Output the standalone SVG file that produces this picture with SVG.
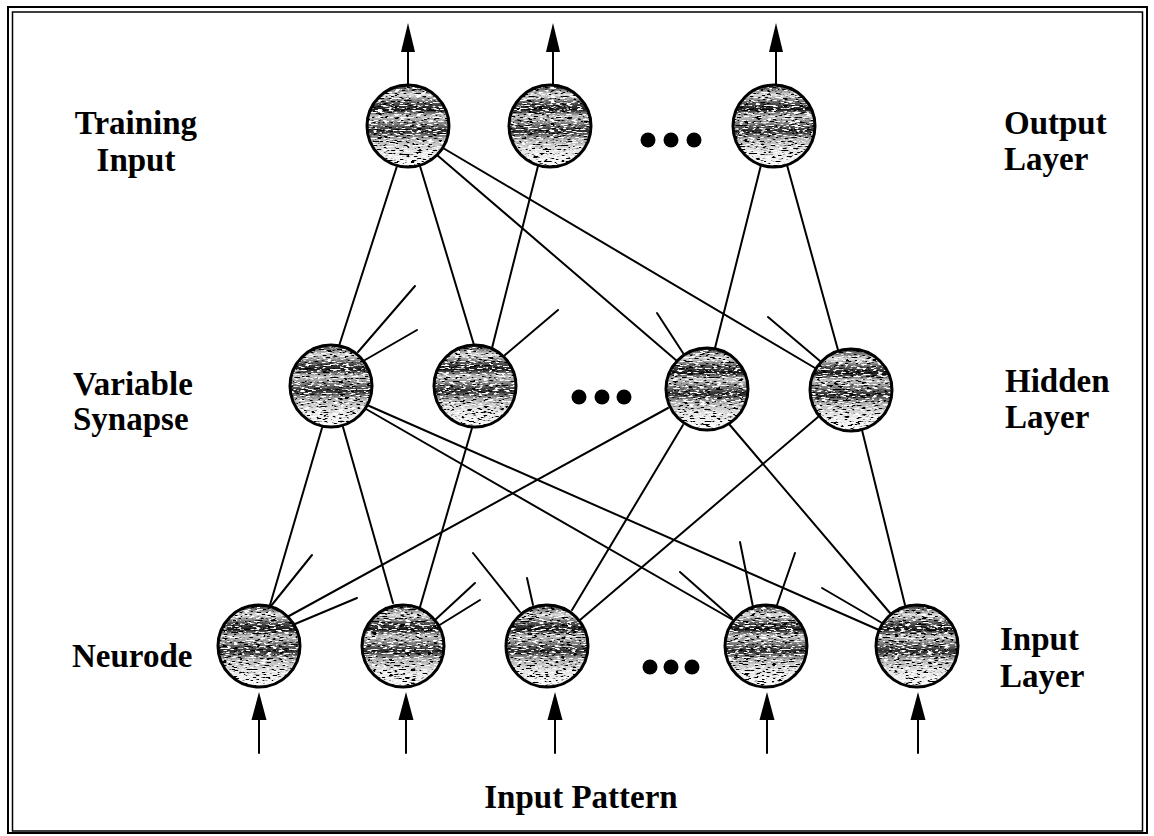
<svg xmlns="http://www.w3.org/2000/svg" width="1154" height="836" viewBox="0 0 1154 836">
<defs>
<style>
.lbl{font-family:"Liberation Serif","Times New Roman",serif;font-weight:bold;font-size:33px;fill:#000}
.ln{stroke:#000;stroke-width:2;fill:none;stroke-linecap:round}
.ring{fill:none;stroke:#000;stroke-width:3}
.body{fill:url(#shade);filter:url(#tex)}
.dot{fill:#000}
.head{fill:#000}
</style>
<linearGradient id="shade" x1="0" y1="0" x2="0" y2="1">
<stop offset="0" stop-color="#222"/>
<stop offset="0.12" stop-color="#e0e0e0"/>
<stop offset="0.22" stop-color="#555"/>
<stop offset="0.3" stop-color="#1a1a1a"/>
<stop offset="0.38" stop-color="#c8c8c8"/>
<stop offset="0.48" stop-color="#777"/>
<stop offset="0.56" stop-color="#2a2a2a"/>
<stop offset="0.66" stop-color="#b0b0b0"/>
<stop offset="0.8" stop-color="#e4e4e4"/>
<stop offset="1" stop-color="#fdfdfd"/>
</linearGradient>
<filter id="tex" x="0" y="0" width="100%" height="100%">
<feTurbulence type="fractalNoise" baseFrequency="0.18 0.75" numOctaves="2" seed="7" result="n"/>
<feColorMatrix in="n" type="matrix" values="0 0 0 0 1  0 0 0 0 1  0 0 0 0 1  0 9 0 0 -4.9" result="w"/>
<feComposite in="w" in2="SourceGraphic" operator="in" result="wm"/>
<feColorMatrix in="n" type="matrix" values="0 0 0 0 0  0 0 0 0 0  0 0 0 0 0  9 0 0 0 -5.0" result="b"/>
<feComposite in="b" in2="SourceGraphic" operator="in" result="bm"/>
<feMerge><feMergeNode in="SourceGraphic"/><feMergeNode in="wm"/><feMergeNode in="bm"/></feMerge>
</filter>
</defs>
<rect x="0" y="0" width="1154" height="836" fill="#fff"/>
<rect x="8" y="7" width="1139" height="826" fill="none" stroke="#000" stroke-width="2"/>
<rect x="12.5" y="12" width="1130" height="819" fill="none" stroke="#000" stroke-width="1.5"/>

<g id="connectors">
<line class="ln" x1="397" y1="166" x2="339" y2="346"/>
<line class="ln" x1="420" y1="166" x2="474" y2="345"/>
<line class="ln" x1="437" y1="155" x2="677" y2="361"/>
<line class="ln" x1="443" y1="148" x2="815" y2="368"/>
<line class="ln" x1="538" y1="166" x2="492" y2="348"/>
<line class="ln" x1="761" y1="165" x2="715" y2="348"/>
<line class="ln" x1="787" y1="165" x2="838" y2="350"/>
<line class="ln" x1="358" y1="352" x2="415" y2="286"/>
<line class="ln" x1="365" y1="360" x2="417" y2="330"/>
<line class="ln" x1="505" y1="355" x2="558" y2="310"/>
<line class="ln" x1="683" y1="353" x2="657" y2="313"/>
<line class="ln" x1="820" y1="361" x2="768" y2="317"/>
<line class="ln" x1="322" y1="428" x2="270" y2="605"/>
<line class="ln" x1="343" y1="427" x2="393" y2="603"/>
<line class="ln" x1="367" y1="405" x2="879" y2="630"/>
<line class="ln" x1="366" y1="409" x2="733" y2="620"/>
<line class="ln" x1="472" y1="428" x2="420" y2="607"/>
<line class="ln" x1="668" y1="408" x2="289" y2="616"/>
<line class="ln" x1="683" y1="425" x2="572" y2="610"/>
<line class="ln" x1="729" y1="424" x2="890" y2="613"/>
<line class="ln" x1="818" y1="417" x2="580" y2="620"/>
<line class="ln" x1="862" y1="430" x2="905" y2="605"/>
<line class="ln" x1="271" y1="606" x2="312" y2="555"/>
<line class="ln" x1="295" y1="624" x2="357" y2="598"/>
<line class="ln" x1="435" y1="620" x2="475" y2="583"/>
<line class="ln" x1="438" y1="626" x2="480" y2="600"/>
<line class="ln" x1="520" y1="612" x2="473" y2="553"/>
<line class="ln" x1="533" y1="605" x2="527" y2="578"/>
<line class="ln" x1="732" y1="618" x2="680" y2="572"/>
<line class="ln" x1="753" y1="607" x2="740" y2="542"/>
<line class="ln" x1="777" y1="605" x2="795" y2="553"/>
<line class="ln" x1="882" y1="623" x2="822" y2="588"/>
<line class="ln" x1="408" y1="85" x2="408" y2="50"/>
<polygon class="head" points="408,23 401,52 415,52"/>
<line class="ln" x1="553" y1="85" x2="553" y2="50"/>
<polygon class="head" points="553,23 546,52 560,52"/>
<line class="ln" x1="776" y1="85" x2="776" y2="50"/>
<polygon class="head" points="776,23 769,52 783,52"/>
<line class="ln" x1="259" y1="720" x2="259" y2="753"/>
<polygon class="head" points="259,692 251.5,720 266.5,720"/>
<line class="ln" x1="406" y1="720" x2="406" y2="753"/>
<polygon class="head" points="406,692 398.5,720 413.5,720"/>
<line class="ln" x1="555" y1="720" x2="555" y2="753"/>
<polygon class="head" points="555,692 547.5,720 562.5,720"/>
<line class="ln" x1="767" y1="720" x2="767" y2="753"/>
<polygon class="head" points="767,692 759.5,720 774.5,720"/>
<line class="ln" x1="918" y1="720" x2="918" y2="753"/>
<polygon class="head" points="918,692 910.5,720 925.5,720"/>
</g>

<g id="out1"><circle class="body" cx="408" cy="126" r="41"/><circle class="ring" cx="408" cy="126" r="41"/></g>
<g id="out2"><circle class="body" cx="550" cy="126" r="41"/><circle class="ring" cx="550" cy="126" r="41"/></g>
<g id="out3"><circle class="body" cx="774" cy="126" r="41"/><circle class="ring" cx="774" cy="126" r="41"/></g>
<g id="out-dots"><circle class="dot" cx="648" cy="140" r="7.5"/><circle class="dot" cx="671" cy="140" r="7.5"/><circle class="dot" cx="694" cy="140" r="7.5"/></g>

<g id="hid1"><circle class="body" cx="331" cy="386" r="41"/><circle class="ring" cx="331" cy="386" r="41"/></g>
<g id="hid2"><circle class="body" cx="475" cy="386" r="41"/><circle class="ring" cx="475" cy="386" r="41"/></g>
<g id="hid3"><circle class="body" cx="707" cy="389" r="41"/><circle class="ring" cx="707" cy="389" r="41"/></g>
<g id="hid4"><circle class="body" cx="851" cy="390" r="41"/><circle class="ring" cx="851" cy="390" r="41"/></g>
<g id="hid-dots"><circle class="dot" cx="579" cy="397" r="7.5"/><circle class="dot" cx="602" cy="397" r="7.5"/><circle class="dot" cx="624" cy="397" r="7.5"/></g>

<g id="in1"><circle class="body" cx="259" cy="646" r="41"/><circle class="ring" cx="259" cy="646" r="41"/></g>
<g id="in2"><circle class="body" cx="403" cy="646" r="41"/><circle class="ring" cx="403" cy="646" r="41"/></g>
<g id="in3"><circle class="body" cx="547" cy="646" r="41"/><circle class="ring" cx="547" cy="646" r="41"/></g>
<g id="in4"><circle class="body" cx="766" cy="646" r="41"/><circle class="ring" cx="766" cy="646" r="41"/></g>
<g id="in5"><circle class="body" cx="917" cy="646" r="41"/><circle class="ring" cx="917" cy="646" r="41"/></g>
<g id="in-dots"><circle class="dot" cx="650" cy="667" r="7.5"/><circle class="dot" cx="671" cy="667" r="7.5"/><circle class="dot" cx="692" cy="667" r="7.5"/></g>

<g id="labels">
<text class="lbl" x="136" y="134" text-anchor="middle">Training</text>
<text class="lbl" x="136" y="171" text-anchor="middle">Input</text>
<text class="lbl" x="1004" y="134">Output</text>
<text class="lbl" x="1004" y="170">Layer</text>
<text class="lbl" x="73" y="395">Variable</text>
<text class="lbl" x="73" y="430">Synapse</text>
<text class="lbl" x="1005" y="392">Hidden</text>
<text class="lbl" x="1005" y="428">Layer</text>
<text class="lbl" x="72" y="667">Neurode</text>
<text class="lbl" x="1000" y="650">Input</text>
<text class="lbl" x="1000" y="687">Layer</text>
<text class="lbl" x="581" y="808" text-anchor="middle">Input Pattern</text>
</g>
</svg>
